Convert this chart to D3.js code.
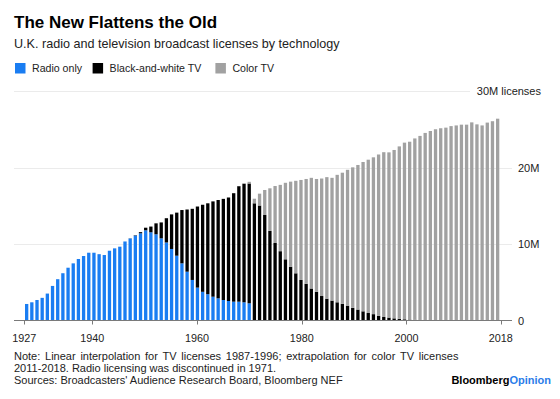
<!DOCTYPE html>
<html>
<head>
<meta charset="utf-8">
<script src="https://cdn.jsdelivr.net/npm/d3@7"></script>
<style>
  html, body { margin: 0; padding: 0; background: #fff; }
  svg { display: block; font-family: "Liberation Sans", Arial, Helvetica, sans-serif; }
</style>
</head>
<body>
<svg id="chart" width="560" height="399"></svg>
<script>
// ---- data (millions of licenses) ----
const years = d3.range(1927, 2019);
const seriesNames = ["Radio only", "Black-and-white TV", "Color TV"];
const seriesColors = ["#1a7df2", "#000000", "#a1a1a1"];

const radioStart = 1927;
const radio = [2.16, 2.38, 2.68, 2.96, 3.52, 4.52, 5.4, 6.18, 6.9, 7.47,
  8.04, 8.43, 8.86, 8.86, 8.67, 8.56, 9.12, 9.43, 9.65, 10.33,
  10.72, 11.1, 11.4, 11.79, 11.53, 11.27, 10.74, 10.2, 9.35, 8.47,
  7.47, 6.38, 5.3, 4.3, 3.75, 3.44, 3.11, 2.9, 2.68, 2.55,
  2.46, 2.46, 2.38, 2.25];

const bwStart = 1947;
const bw = [0.02, 0.05, 0.15, 0.34, 0.75, 1.43, 2.08, 3.17, 4.52, 5.63,
  6.97, 8.13, 9.3, 10.6, 11.38, 11.88, 12.46, 12.85, 13.22, 13.53,
  14.18, 15.1, 15.48, 15.66, 15.32, 15.03, 13.79, 11.72, 10.13, 9.06,
  8.0, 7.03, 6.17, 5.3, 4.8, 4.18, 3.75, 3.2, 2.85, 2.6,
  2.38, 2.18, 1.94, 1.65, 1.43, 1.2, 0.98, 0.83, 0.6, 0.46,
  0.38, 0.28, 0.22, 0.16, 0.12, 0.09, 0.07, 0.06, 0.05, 0.04,
  0.03, 0.03, 0.02, 0.02, 0.02, 0.01, 0.01, 0.01, 0.01, 0.01, 0.01, 0.01];

const colorStart = 1968;
const color = [0.02, 0.1, 0.22, 0.6, 1.55, 3.27, 5.56, 7.45, 8.67, 10.0,
  11.12, 12.09, 13.07, 13.7, 14.47, 14.75, 15.36, 15.89, 16.05, 16.66,
  17.14, 17.76, 18.37, 18.9, 19.52, 20.04, 20.5, 21.1, 21.54, 21.6,
  22.01, 22.54, 23.09, 23.25, 23.71, 24.06, 24.46, 24.72, 24.96, 25.1,
  25.18, 25.39, 25.48, 25.58, 25.59, 25.89, 25.63, 25.49, 25.86, 26.04, 26.37];

const xTickYears = [1927, 1940, 1960, 1980, 2000, 2018];
const yTicks = [0, 10, 20, 30];
const yTickLabels = ["0", "10M", "20M", "30M licenses"];

// ---- build table ----
const table = years.map(y => ({
  year: y,
  radio: radio[y - radioStart] || 0,
  bw: bw[y - bwStart] || 0,
  color: color[y - colorStart] || 0
}));
const keys = ["radio", "bw", "color"];
const stacked = d3.stack().keys(keys)(table);

// ---- scales ----
const svg = d3.select("#chart");
const y = d3.scaleLinear().domain([0, 30]).range([320.5, 91]);
const x = d3.scaleBand().domain(years).range([25, 499.3]).paddingInner(0.36).paddingOuter(0);
const xt = d3.scaleLinear().domain([1927, 2018]).range([24.3, 500.7]);

// ---- titles ----
svg.append("text").attr("x", 14).attr("y", 28)
  .attr("font-size", 17).attr("font-weight", "bold").attr("fill", "#000")
  .text("The New Flattens the Old");
svg.append("text").attr("x", 14).attr("y", 48)
  .attr("font-size", 12.6).attr("fill", "#222")
  .text("U.K. radio and television broadcast licenses by technology");

// ---- legend ----
const legendX = [15, 92.6, 215.4];
seriesNames.forEach((n, i) => {
  const g = svg.append("g").attr("transform", `translate(${legendX[i]},63)`);
  g.append("rect").attr("width", 10.5).attr("height", 10.5).attr("fill", seriesColors[i]);
  g.append("text").attr("x", 17).attr("y", 9.3).attr("font-size", 10.6).attr("fill", "#222").text(n);
});

// ---- gridlines ----
svg.append("g").selectAll("line").data(yTicks.filter(d => d > 0)).join("line")
  .attr("x1", 14).attr("x2", d => d === 30 ? 470 : 512)
  .attr("y1", d => Math.round(y(d)) + 0.5).attr("y2", d => Math.round(y(d)) + 0.5)
  .attr("stroke", "#ebebeb").attr("stroke-width", 1);

// ---- bars ----
svg.append("g").selectAll("g").data(stacked).join("g")
  .attr("fill", (d, i) => seriesColors[i])
  .selectAll("rect").data(d => d.filter(s => s[1] - s[0] > 0)).join("rect")
  .attr("x", d => x(d.data.year))
  .attr("width", x.bandwidth())
  .attr("y", d => y(d[1]))
  .attr("height", d => y(d[0]) - y(d[1]));

// ---- x axis ----
svg.append("line").attr("x1", 14).attr("x2", 512)
  .attr("y1", 320.5).attr("y2", 320.5).attr("stroke", "#7a7a7a").attr("stroke-width", 1);
const xa = svg.append("g");
xa.selectAll("line").data(xTickYears).join("line")
  .attr("x1", d => Math.round(xt(d)) + 0.5).attr("x2", d => Math.round(xt(d)) + 0.5)
  .attr("y1", 320.5).attr("y2", 324.5).attr("stroke", "#7a7a7a");
xa.selectAll("text").data(xTickYears).join("text")
  .attr("x", d => xt(d)).attr("y", 341.5).attr("text-anchor", "middle")
  .attr("font-size", 10.8).attr("fill", "#222").text(d => d);

// ---- y axis labels (right) ----
svg.append("g").selectAll("text").data(yTicks).join("text")
  .attr("x", d => d === 30 ? 541 : 518)
  .attr("text-anchor", d => d === 30 ? "end" : "start")
  .attr("y", d => y(d) + 4)
  .attr("font-size", 11).attr("fill", "#222")
  .text((d, i) => yTickLabels[i]);

// ---- notes ----
const notes = [
  "Note: Linear interpolation for TV licenses 1987-1996; extrapolation for color TV licenses",
  "2011-2018. Radio licensing was discontinued in 1971.",
  "Sources: Broadcasters' Audience Research Board, Bloomberg NEF"
];
svg.append("g").selectAll("text").data(notes).join("text")
  .attr("x", 14).attr("y", (d, i) => 359.5 + i * 12)
  .attr("font-size", 11).attr("fill", "#222")
  .attr("word-spacing", (d, i) => i === 0 ? 1.7 : 0)
  .text(d => d);

// ---- logo ----
const logo = svg.append("text").attr("x", 551).attr("y", 383.6).attr("text-anchor", "end")
  .attr("font-size", 11).attr("font-weight", "bold");
logo.append("tspan").attr("fill", "#000").text("Bloomberg");
logo.append("tspan").attr("fill", "#2b7de9").text("Opinion");
</script>
</body>
</html>
